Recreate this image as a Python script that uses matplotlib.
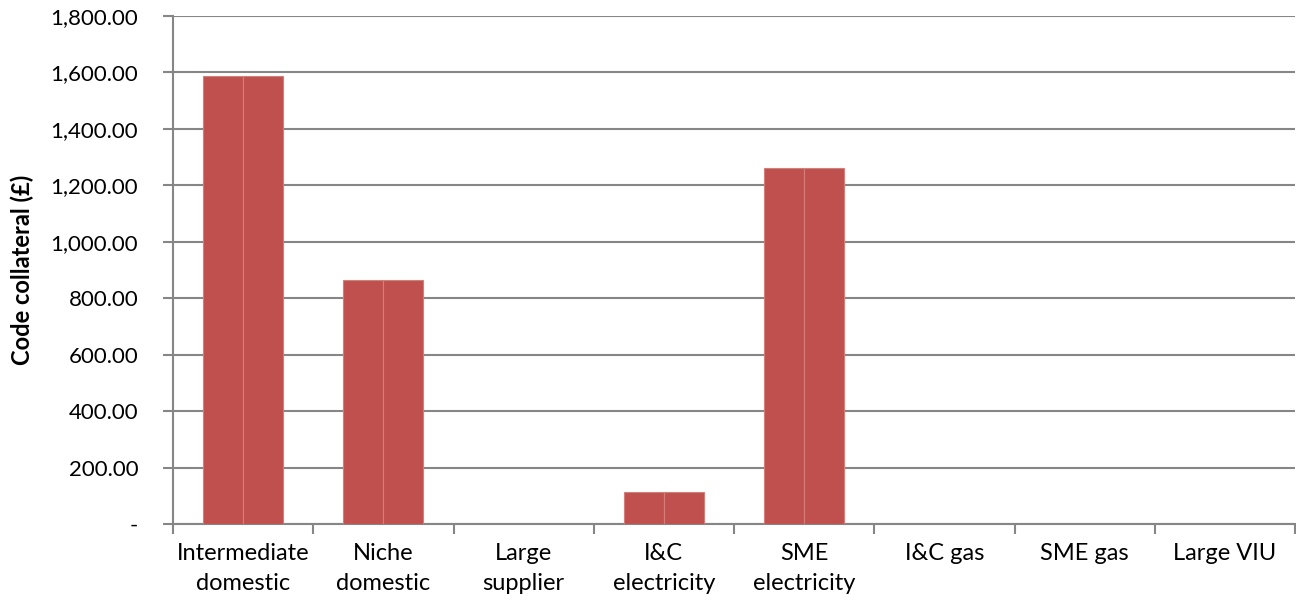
import matplotlib.pyplot as plt
from matplotlib.ticker import FuncFormatter, FixedLocator
import numpy as np

categories = ['Intermediate\ndomestic', 'Niche\ndomestic', 'Large\nsupplier', 'I&C\nelectricity',
              'SME\nelectricity', 'I&C gas', 'SME gas', 'Large VIU']
series_a = [1587, 865, 0, 113, 1262, 0, 0, 0]
series_b = [1587, 865, 0, 113, 1262, 0, 0, 0]

plt.rcParams['font.family'] = ['Lato', 'DejaVu Sans']

fig = plt.figure(figsize=(12.96, 6.04), dpi=100)
ax = fig.add_axes([173/1296, 80/604, 1122/1296, 508/604])

x = np.arange(len(categories))
w = 0.285
red = '#C0504D'
ax.bar(x - w/2, series_a, w, color=red, edgecolor='#d67c79', linewidth=0.8, zorder=3)
ax.bar(x + w/2, series_b, w, color=red, edgecolor='#d67c79', linewidth=0.8, zorder=3)

ax.set_xlim(-0.5, len(categories) - 0.5)
ax.set_ylim(0, 1800)
ax.set_yticks(np.arange(0, 1801, 200))
ax.yaxis.set_major_formatter(FuncFormatter(lambda v, p: '-' if v == 0 else f'{v:,.2f}'))
ax.grid(axis='y', color='#868686', linewidth=1.5, zorder=0)

# category labels centred, tick marks on the category boundaries
ax.set_xticks(x)
ax.set_xticklabels(categories, fontsize=17, linespacing=1.5)
ax.tick_params(axis='x', length=0, pad=14)
ax.xaxis.set_minor_locator(FixedLocator(np.arange(-0.5, len(categories), 1)))
ax.tick_params(axis='x', which='minor', length=7, width=1.5, color='#868686')
ax.tick_params(axis='y', length=7, width=1.5, color='#868686', labelsize=16, pad=18)

for side in ['top', 'right']:
    ax.spines[side].set_visible(False)
for side in ['left', 'bottom']:
    ax.spines[side].set_color('#868686')
    ax.spines[side].set_linewidth(1.5)

ax.set_ylabel('Code collateral (£)', fontsize=17, fontweight='bold', labelpad=12)

fig.savefig('out.png', dpi=100)
